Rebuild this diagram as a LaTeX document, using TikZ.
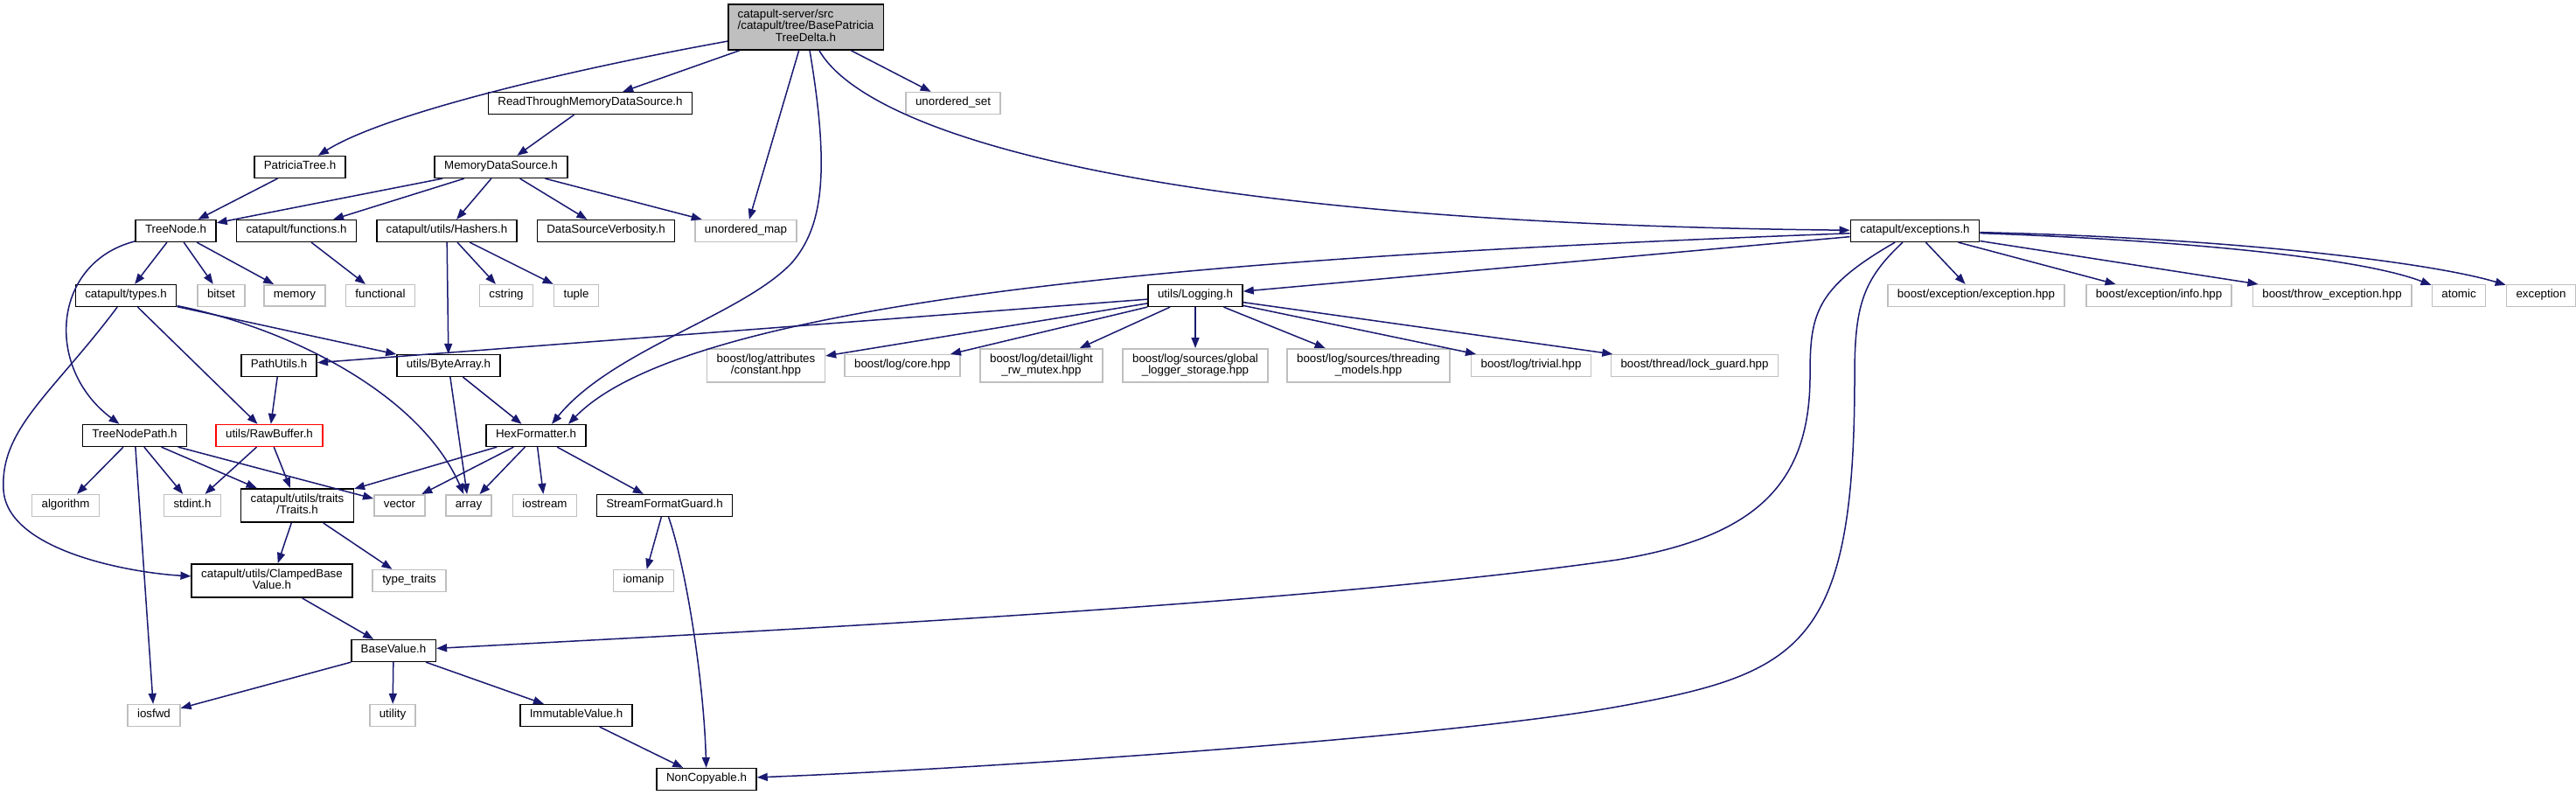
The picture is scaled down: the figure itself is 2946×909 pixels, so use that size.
\documentclass[tikz,border=0pt]{standalone}
\usepackage{fontspec}
\setmainfont{Liberation Sans}
\usetikzlibrary{arrows.meta}
\definecolor{edgeblue}{HTML}{191970}
\definecolor{extgray}{HTML}{BFBFBF}
\newcommand{\twolines}[2]{\begin{tabular}{@{}c@{}}#1\\#2\end{tabular}}

\begin{document}
\begin{tikzpicture}[x=1pt,y=-1pt,>={Triangle[length=12pt,width=9pt]},
  font=\fontsize{13.33}{13.33}\selectfont,
  every node/.style={inner xsep=11pt,inner ysep=5.5pt,execute at begin node=\strut},
  hdr/.style={draw=black,line width=1.6pt,fill=white},
  ext/.style={draw=extgray,line width=1.6pt,fill=white},
  dep/.style={->,edgeblue,line width=1.5pt}]
  \useasboundingbox (0,0) rectangle (2946,909);

  \node[hdr,fill=extgray] (root) at (921.5,31) {\begin{tabular}{@{}l@{}}catapult-server/src\\/catapult/tree/BasePatricia\\\multicolumn{1}{@{}c@{}}{TreeDelta.h}\end{tabular}};
  \node[hdr] (readthrough) at (675,118) {ReadThroughMemoryDataSource.h};
  \node[ext] (uset) at (1090,118) {unordered\_set};
  \node[hdr] (patricia) at (343,191) {PatriciaTree.h};
  \node[hdr] (memds) at (573,191) {MemoryDataSource.h};
  \node[hdr] (treenode) at (201,264) {TreeNode.h};
  \node[hdr] (functions) at (339,264) {catapult/functions.h};
  \node[hdr] (hashers) at (511,264) {catapult/utils/Hashers.h};
  \node[hdr] (verbosity) at (693,264) {DataSourceVerbosity.h};
  \node[ext] (umap) at (853,264) {unordered\_map};
  \node[hdr] (exceptions) at (2190,264) {catapult/exceptions.h};
  \node[hdr] (types) at (144,338) {catapult/types.h};
  \node[ext] (bitset) at (253,338) {bitset};
  \node[ext] (memory) at (337,338) {memory};
  \node[ext] (functional) at (435,338) {functional};
  \node[ext] (cstring) at (579,338) {cstring};
  \node[ext] (tuple) at (659,338) {tuple};
  \node[hdr] (logging) at (1367,338) {utils/Logging.h};
  \node[ext] (exchpp) at (2260,338) {boost/exception/exception.hpp};
  \node[ext] (infohpp) at (2469,338) {boost/exception/info.hpp};
  \node[ext] (throwexc) at (2667,338) {boost/throw\_exception.hpp};
  \node[ext] (atomic) at (2812,338) {atomic};
  \node[ext] (exception) at (2906,338) {exception};
  \node[hdr] (pathutils) at (319,418) {PathUtils.h};
  \node[hdr] (bytearray) at (513,418) {utils/ByteArray.h};
  \node[ext] (constant) at (876,418) {\twolines{boost/log/attributes}{/constant.hpp}};
  \node[ext] (corehpp) at (1032,418) {boost/log/core.hpp};
  \node[ext] (lightmutex) at (1191,418) {\twolines{boost/log/detail/light}{\_rw\_mutex.hpp}};
  \node[ext] (globallogger) at (1367,418) {\twolines{boost/log/sources/global}{\_logger\_storage.hpp}};
  \node[ext] (threading) at (1565,418) {\twolines{boost/log/sources/threading}{\_models.hpp}};
  \node[ext] (trivial) at (1751,418) {boost/log/trivial.hpp};
  \node[ext] (lockguard) at (1938,418) {boost/thread/lock\_guard.hpp};
  \node[hdr] (treenodepath) at (154,498) {TreeNodePath.h};
  \node[hdr,draw=red] (rawbuffer) at (308,498) {utils/RawBuffer.h};
  \node[hdr] (hexfmt) at (613,498) {HexFormatter.h};
  \node[ext] (algorithm) at (75,578) {algorithm};
  \node[ext] (stdint) at (220,578) {stdint.h};
  \node[hdr] (traits) at (340,578) {\twolines{catapult/utils/traits}{/Traits.h}};
  \node[ext] (vector) at (457,578) {vector};
  \node[ext] (array) at (536,578) {array};
  \node[ext] (iostream) at (623,578) {iostream};
  \node[hdr] (streamfmt) at (760,578) {StreamFormatGuard.h};
  \node[hdr] (clamped) at (311,664) {\twolines{catapult/utils/ClampedBase}{Value.h}};
  \node[ext] (typetraits) at (468,664) {type\_traits};
  \node[ext] (iomanip) at (736,664) {iomanip};
  \node[hdr] (basevalue) at (450,744) {BaseValue.h};
  \node[ext] (iosfwd) at (176,818) {iosfwd};
  \node[ext] (utility) at (449,818) {utility};
  \node[hdr] (immutable) at (659,818) {ImmutableValue.h};
  \node[hdr] (noncopyable) at (808,891) {NonCopyable.h};

  \draw[dep] (root) .. controls (650,80) and (440,130) .. (patricia);
  \draw[dep] (root) -- (readthrough);
  \draw[dep] (root) -- (umap);
  \draw[dep] (root) .. controls (950,200) and (940,260) .. (906,300) .. controls (850,360) and (700,400) .. ([xshift=18pt]hexfmt.north);
  \draw[dep] (root) .. controls (990,150) and (1300,255) .. (exceptions);
  \draw[dep] (root) -- (uset);
  \draw[dep] (readthrough) -- (memds);
  \draw[dep] (patricia) -- (treenode);
  \draw[dep] (memds) -- (treenode);
  \draw[dep] (memds) -- (functions);
  \draw[dep] (memds) -- (hashers);
  \draw[dep] (memds) -- (verbosity);
  \draw[dep] (memds) -- (umap);
  \draw[dep] (treenode) .. controls (60,300) and (50,420) .. (treenodepath);
  \draw[dep] (treenode) -- (types);
  \draw[dep] (treenode) -- (bitset);
  \draw[dep] (treenode) -- (memory);
  \draw[dep] (functions) -- (functional);
  \draw[dep] (hashers) -- (bytearray);
  \draw[dep] (hashers) -- (cstring);
  \draw[dep] (hashers) -- (tuple);
  \draw[dep] (types) .. controls (60,450) and (0,490) .. (4,560) .. controls (8,630) and (150,655) .. (clamped);
  \draw[dep] (types) -- (rawbuffer);
  \draw[dep] (types) .. controls (330,375) and (480,450) .. (array);
  \draw[dep] (types) -- (bytearray);
  \draw[dep] (pathutils) -- (rawbuffer);
  \draw[dep] (bytearray) -- (array);
  \draw[dep] (bytearray) -- (hexfmt);
  \draw[dep] (treenodepath) -- (algorithm);
  \draw[dep] (treenodepath) -- (stdint);
  \draw[dep] (treenodepath) -- (traits);
  \draw[dep] (treenodepath) -- (vector);
  \draw[dep] (treenodepath) -- (iosfwd);
  \draw[dep] (rawbuffer) -- (stdint);
  \draw[dep] (rawbuffer) -- (traits);
  \draw[dep] (hexfmt) -- (traits);
  \draw[dep] (hexfmt) -- (vector);
  \draw[dep] (hexfmt) -- (array);
  \draw[dep] (hexfmt) -- (iostream);
  \draw[dep] (hexfmt) -- (streamfmt);
  \draw[dep] (traits) -- (clamped);
  \draw[dep] (traits) -- (typetraits);
  \draw[dep] (streamfmt) -- (iomanip);
  \draw[dep] (streamfmt) .. controls (785,650) and (805,780) .. (noncopyable);
  \draw[dep] (clamped) -- (basevalue);
  \draw[dep] (basevalue) -- (iosfwd);
  \draw[dep] (basevalue) -- (utility);
  \draw[dep] (basevalue) -- (immutable);
  \draw[dep] (immutable) -- (noncopyable);
  \draw[dep] (exceptions) -- (logging);
  \draw[dep] (exceptions) .. controls (1500,290) and (800,330) .. ([xshift=37pt]hexfmt.north);
  \draw[dep] (exceptions) .. controls (2075,330) and (2070,360) .. (2070,430) .. controls (2070,560) and (2000,615) .. (1850,640) .. controls (1500,690) and (900,720) .. (basevalue);
  \draw[dep] (exceptions) .. controls (2130,320) and (2121,350) .. (2121,430) .. controls (2121,740) and (2060,770) .. (1850,808) .. controls (1650,844) and (1100,880) .. (noncopyable);
  \draw[dep] (exceptions) -- (exchpp);
  \draw[dep] (exceptions) -- (infohpp);
  \draw[dep] (exceptions) -- (throwexc);
  \draw[dep] (exceptions) .. controls (2500,275) and (2700,295) .. (atomic);
  \draw[dep] (exceptions) .. controls (2550,272) and (2780,300) .. (exception);
  \draw[dep] (logging) -- (pathutils);
  \draw[dep] (logging) -- (constant);
  \draw[dep] (logging) -- (corehpp);
  \draw[dep] (logging) -- (lightmutex);
  \draw[dep] (logging) -- (globallogger);
  \draw[dep] (logging) -- (threading);
  \draw[dep] (logging) -- (trivial);
  \draw[dep] (logging) -- (lockguard);
\end{tikzpicture}
\end{document}
